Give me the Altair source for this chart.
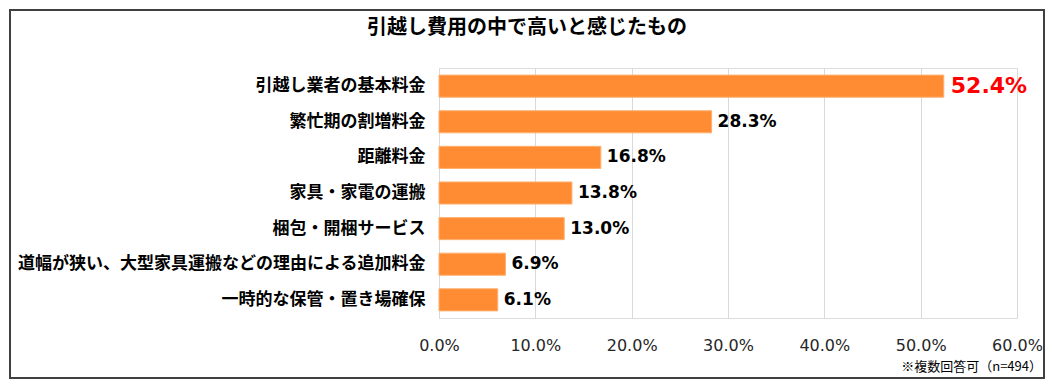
import altair as alt
import pandas as pd

categories = [
    "引越し業者の基本料金",
    "繁忙期の割増料金",
    "距離料金",
    "家具・家電の運搬",
    "梱包・開梱サービス",
    "道幅が狭い、大型家具運搬などの理由による追加料金",
    "一時的な保管・置き場確保",
]
values = [52.4, 28.3, 16.8, 13.8, 13.0, 6.9, 6.1]
tick_values = [0, 10, 20, 30, 40, 50, 60]
title_text = "引越し費用の中で高いと感じたもの"
note_text = "※複数回答可（n=494）"

df = pd.DataFrame({
    "cat": categories,
    "val": values,
    "label": [f"{v:.1f}%" for v in values],
    "top": [i == 0 for i in range(len(values))],
})

W, H = 578, 250
JP = "Noto Sans CJK JP"

y_enc = alt.Y(
    "cat:N", sort=categories, title=None,
    scale=alt.Scale(paddingInner=0.38, paddingOuter=0.2),
    axis=alt.Axis(domain=False, ticks=False, labelFont=JP, labelFontSize=17,
                  labelFontWeight="bold", labelColor="#000000", labelPadding=14,
                  labelLimit=600),
)
x_enc = alt.X(
    "val:Q", title=None,
    scale=alt.Scale(domain=[0, 60], nice=False),
    axis=alt.Axis(values=tick_values, domain=False, ticks=False, grid=True,
                  gridColor="#D9D9D9", gridWidth=1, labelFlush=False,
                  labelOverlap=False,
                  labelExpr="format(datum.value, '.1f') + '%'",
                  labelFont="DejaVu Sans", labelFontSize=16, labelColor="#262626",
                  labelPadding=19),
)

base = alt.Chart(df)

bars = base.mark_bar(color="#FF8C33", stroke="#FFB070", strokeWidth=1).encode(x=x_enc, y=y_enc)

labels_top = base.transform_filter(alt.datum.top == True).mark_text(
    align="left", baseline="middle", dx=7, font="DejaVu Sans", fontWeight="bold",
    fontSize=22, color="#FF0000",
).encode(x="val:Q", y=alt.Y("cat:N", sort=categories), text="label:N")

labels_rest = base.transform_filter(alt.datum.top == False).mark_text(
    align="left", baseline="middle", dx=6, font="DejaVu Sans", fontWeight="bold",
    fontSize=17, color="#000000",
).encode(x="val:Q", y=alt.Y("cat:N", sort=categories), text="label:N")

title_df = pd.DataFrame({"t": [title_text]})
title = alt.Chart(title_df).mark_text(
    align="center", baseline="middle", font=JP, fontWeight="bold", fontSize=20,
    color="#000000",
).encode(x=alt.value(88), y=alt.value(-40), text="t:N")

note_df = pd.DataFrame({"t": [note_text]})
note = alt.Chart(note_df).mark_text(
    align="right", baseline="middle", font=JP, fontSize=13, color="#000000",
).encode(x=alt.value(603), y=alt.value(299), text="t:N")

border = alt.Chart(title_df).mark_rect(
    fill=None, stroke="#404040", strokeWidth=2,
).encode(x=alt.value(-429), x2=alt.value(605), y=alt.value(-58), y2=alt.value(310))

chart = alt.layer(border, bars, labels_top, labels_rest, title, note).properties(
    width=W, height=H,
    autosize=alt.AutoSizeParams(type="none"),
    padding={"left": 431, "top": 60, "right": 29, "bottom": 62},
).configure_view(stroke=None).configure(background="#FFFFFF")

chart.save("out.html", embed_options={"renderer": "svg", "actions": False})
